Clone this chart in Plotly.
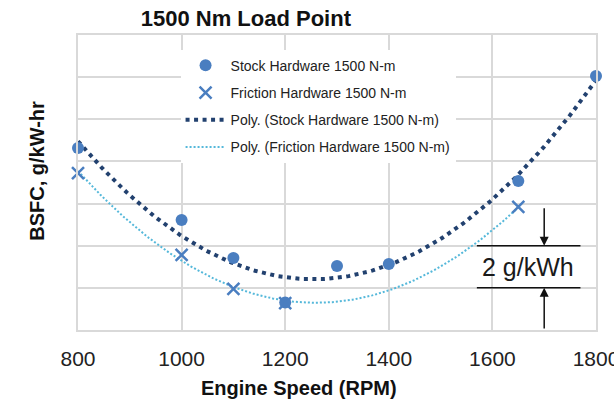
import numpy as np
import plotly.graph_objects as go

# ---- data ----
stock_rpm = [800, 1000, 1100, 1200, 1300, 1400, 1650, 1800]
stock_bsfc = [198.64, 195.22, 193.42, 191.3, 193.04, 193.13, 197.07, 202.05]
fric_rpm = [800, 1000, 1100, 1200, 1650]
fric_bsfc = [197.45, 193.56, 191.95, 191.28, 195.84]
x_ticks = [800, 1000, 1200, 1400, 1600, 1800]
y_range = [190, 204]
scale_lo, scale_hi = 192, 194     # "2 g/kWh" bracket
scale_x = 1700

# polynomial (order 2) trendlines, as in the spreadsheet
ps = np.polyfit(stock_rpm, stock_bsfc, 2)
pf = np.polyfit(fric_rpm, fric_bsfc, 2)
xs = np.linspace(min(stock_rpm), max(stock_rpm), 200)
xf = np.linspace(min(fric_rpm), max(fric_rpm), 200)

MARK = "#4A7EC0"
DARK = "#22416F"
CYAN = "#55B8DA"
FONT = "Liberation Sans"

fig = go.Figure()
fig.add_trace(go.Scatter(x=xs, y=np.polyval(ps, xs), mode="lines",
                         line=dict(color=DARK, width=4, dash="4px,4.5px"),
                         name="Poly. (Stock Hardware 1500 N-m)", legendrank=3,
                         legendgroup="c"))
fig.add_trace(go.Scatter(x=xf, y=np.polyval(pf, xf), mode="lines",
                         line=dict(color=CYAN, width=2, dash="2px,2px"),
                         name="Poly. (Friction Hardware 1500 N-m)", legendrank=4,
                         legendgroup="d"))
fig.add_trace(go.Scatter(x=stock_rpm, y=stock_bsfc, mode="markers",
                         marker=dict(symbol="circle", size=12, color=MARK),
                         name="Stock Hardware 1500 N-m", legendrank=1,
                         legendgroup="a", cliponaxis=False))
fig.add_trace(go.Scatter(x=fric_rpm, y=fric_bsfc, mode="markers",
                         marker=dict(symbol="x-thin", size=12,
                                     line=dict(color=MARK, width=2.5)),
                         name="Friction Hardware 1500 N-m", legendrank=2,
                         legendgroup="b", cliponaxis=False))

# scale bracket
for yv in (scale_lo, scale_hi):
    fig.add_shape(type="line", xref="x", yref="y", x0=1570, x1=1770, y0=yv, y1=yv,
                  line=dict(color="#111111", width=1.5))
fig.add_annotation(x=scale_x, y=scale_hi, ax=scale_x, ay=scale_hi + 1.85,
                   xref="x", yref="y", axref="x", ayref="y", text="",
                   showarrow=True, arrowhead=2, arrowsize=1.2, arrowwidth=1.5,
                   arrowcolor="#111111")
fig.add_annotation(x=scale_x, y=scale_lo, ax=scale_x, ay=y_range[0],
                   xref="x", yref="y", axref="x", ayref="y", text="",
                   showarrow=True, arrowhead=2, arrowsize=1.2, arrowwidth=1.5,
                   arrowcolor="#111111")
fig.add_annotation(x=1668, y=(scale_lo + scale_hi) / 2, xref="x", yref="y",
                   text="2 g/kWh", showarrow=False,
                   font=dict(family=FONT, size=25, color="#1a1a1a"))

# axis titles
fig.add_annotation(x=0.427, y=-0.197, xref="paper", yref="paper",
                   xanchor="center", yanchor="middle",
                   text="<b>Engine Speed (RPM)</b>", showarrow=False,
                   font=dict(family=FONT, size=20, color="#111111"))
fig.add_annotation(x=-0.079, y=0.54, xref="paper", yref="paper",
                   xanchor="center", yanchor="middle",
                   text="<b>BSFC, g/kW-hr</b>", showarrow=False, textangle=-90,
                   font=dict(family=FONT, size=20, color="#111111"))

fig.update_layout(
    width=614, height=404,
    margin=dict(l=78, r=18, t=35, b=74, autoexpand=False),
    paper_bgcolor="white", plot_bgcolor="white",
    title=dict(text="<b>1500 Nm Load Point</b>", x=0.324, xref="paper",
               xanchor="center", y=0.955, yanchor="middle",
               font=dict(family=FONT, size=22, color="#111111")),
    showlegend=True,
    legend=dict(x=0.198, y=0.95, xanchor="left", yanchor="top",
                bgcolor="white", font=dict(family=FONT, size=14, color="#222222"),
                tracegroupgap=6, itemwidth=40),
    xaxis=dict(range=[800, 1800], tickvals=x_ticks, ticktext=[str(v) for v in x_ticks],
               showgrid=True, gridcolor="#D9D9D9", gridwidth=1.5,
               showline=True, linecolor="#D9D9D9", linewidth=1.5, mirror=True,
               zeroline=False, ticks="", ticklabelstandoff=9,
               ticklabeloverflow="allow", automargin=False,
               tickfont=dict(family=FONT, size=21, color="#222222")),
    yaxis=dict(range=y_range, dtick=2, showticklabels=False, automargin=False,
               showgrid=True, gridcolor="#D9D9D9", gridwidth=1.5,
               showline=True, linecolor="#D9D9D9", linewidth=1.5, mirror=True,
               zeroline=False, ticks=""),
)

fig.write_html("out.html")
